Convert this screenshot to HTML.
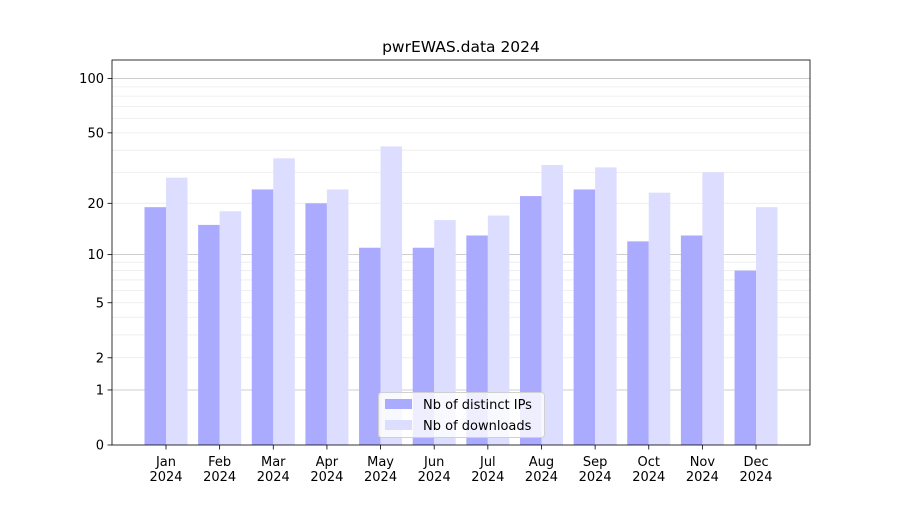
<!DOCTYPE html>
<html><head><meta charset="utf-8"><style>
body{margin:0;background:#fff}
svg text{font-family:"DejaVu Sans","Liberation Sans",sans-serif;fill:#000}
</style></head><body>
<svg id="s" width="900" height="500" xmlns="http://www.w3.org/2000/svg"></svg>
<script>
const s=document.getElementById('s');
const Y=v=>445-182.8*Math.log10(1+v);
let h='<rect width="900" height="500" fill="#fff"/>';
[2,3,4,5,6,7,8,9,20,30,40,50,60,70,80,90].forEach(v=>{h+=`<line x1="112" x2="810" y1="${Y(v)}" y2="${Y(v)}" stroke="#ebebeb" stroke-width="0.8"/>`});
[1,10,100].forEach(v=>{h+=`<line x1="112" x2="810" y1="${Y(v)}" y2="${Y(v)}" stroke="#bdbdbd" stroke-width="0.8"/>`});
const ip=[19,15,24,20,11,11,13,22,24,12,13,8];
const dl=[28,18,36,24,42,16,17,33,32,23,30,19];
const m=['Jan','Feb','Mar','Apr','May','Jun','Jul','Aug','Sep','Oct','Nov','Dec'];
for(let i=0;i<12;i++){
 const c=166+i*53.64;
 h+=`<rect x="${c-21.5}" y="${Y(ip[i])}" width="21.5" height="${445-Y(ip[i])}" fill="#aaaaff"/>`;
 h+=`<rect x="${c}" y="${Y(dl[i])}" width="21.5" height="${445-Y(dl[i])}" fill="#ddddff"/>`;
 h+=`<line x1="${c}" x2="${c}" y1="445" y2="449.5" stroke="#000" stroke-width="0.8"/>`;
 h+=`<text x="${c}" y="466" font-size="13" text-anchor="middle">${m[i]}</text><text x="${c}" y="481" font-size="13" text-anchor="middle">2024</text>`;
}
[[0,'0'],[1,'1'],[2,'2'],[5,'5'],[10,'10'],[20,'20'],[50,'50'],[100,'100']].forEach(([v,t])=>{
 const y=Y(v);
 h+=`<line x1="107.5" x2="112" y1="${y}" y2="${y}" stroke="#000" stroke-width="0.8"/><text x="104" y="${y+4.5}" font-size="13" text-anchor="end">${t}</text>`;
});
h+='<rect x="112" y="60" width="698" height="385" fill="none" stroke="#000" stroke-width="0.8"/>';
h+='<text x="461" y="52" font-size="15.5" text-anchor="middle">pwrEWAS.data 2024</text>';
h+='<rect x="378.5" y="392.5" width="166" height="45" rx="3" fill="#fff" fill-opacity="0.8" stroke="#d0d0d0"/>';
h+='<rect x="385" y="399" width="27" height="10" fill="#aaaaff"/><text x="423" y="409" font-size="13">Nb of distinct IPs</text>';
h+='<rect x="385" y="420" width="27" height="10" fill="#ddddff"/><text x="423" y="430" font-size="13">Nb of downloads</text>';
s.innerHTML=h;
</script>
</body></html>
